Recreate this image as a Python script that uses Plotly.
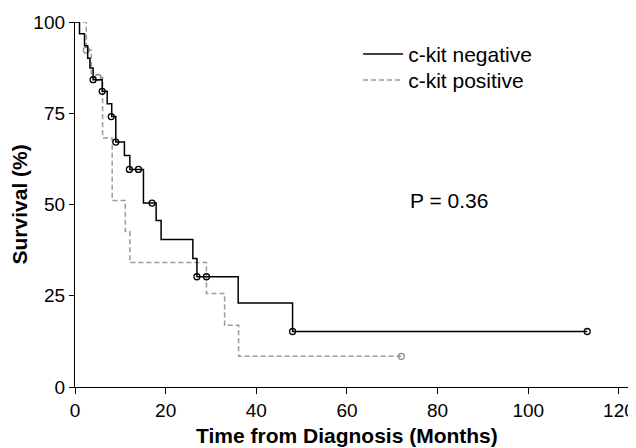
import plotly.graph_objects as go

# Kaplan-Meier step data
neg_time = [0, 1.0, 2.1, 2.8, 3.3, 4.0, 6.0, 7.1, 8.1, 9.0, 10.9, 12.1, 15.1, 17.9, 19.0, 26.0, 26.9, 36.0, 48.0, 113.0]
neg_surv = [100, 96.8, 93.5, 90.1, 87.4, 84.2, 81.0, 77.6, 74.1, 67.1, 63.4, 59.6, 50.4, 45.6, 40.4, 35.2, 30.2, 23.0, 15.2, 15.2]
neg_cens_time = [4.0, 6.0, 8.0, 9.0, 12.0, 14.0, 17.0, 26.9, 29.0, 48.0, 113.0]
neg_cens_surv = [84.2, 81.0, 74.1, 67.1, 59.6, 59.6, 50.4, 30.2, 30.2, 15.2, 15.2]

pos_time = [0, 2.5, 3.6, 6.1, 8.2, 11.1, 12.1, 29.0, 33.0, 36.1, 72.0]
pos_surv = [100, 92.3, 84.8, 68.2, 51.1, 42.6, 34.1, 25.6, 16.9, 8.4, 8.4]
pos_cens_time = [2.5, 5.1, 72.0]
pos_cens_surv = [92.3, 84.8, 8.4]

x_ticks = [0, 20, 40, 60, 80, 100, 120]
y_ticks = [0, 25, 50, 75, 100]
labels = ["c-kit negative", "c-kit positive"]
p_text = "P = 0.36"
x_title = "Time from Diagnosis (Months)"
y_title = "Survival (%)"

BLACK = "#000000"
GREY = "#999999"
GREY_MK = "#8a8a8a"
FONT = "Liberation Sans, Arial, sans-serif"

fig = go.Figure()

# c-kit positive (grey dashed)
fig.add_trace(go.Scatter(x=pos_time, y=pos_surv, mode="lines", line_shape="hv",
                         line=dict(color=GREY, width=1.5, dash="5px,3px"),
                         showlegend=False, cliponaxis=False, hoverinfo="skip"))
fig.add_trace(go.Scatter(x=pos_cens_time, y=pos_cens_surv, mode="markers",
                         marker=dict(symbol="circle-open", size=6, color=GREY_MK, line=dict(width=1.3)),
                         showlegend=False, cliponaxis=False))
# c-kit negative (black solid)
fig.add_trace(go.Scatter(x=neg_time, y=neg_surv, mode="lines", line_shape="hv",
                         line=dict(color=BLACK, width=1.5),
                         showlegend=False, cliponaxis=False, hoverinfo="skip"))
fig.add_trace(go.Scatter(x=neg_cens_time, y=neg_cens_surv, mode="markers",
                         marker=dict(symbol="circle-open", size=6, color=BLACK, line=dict(width=1.3)),
                         showlegend=False, cliponaxis=False))

# legend entries (two legends so row spacing can match)
fig.add_trace(go.Scatter(x=[None], y=[None], mode="lines", name=labels[0],
                         line=dict(color=BLACK, width=1.5), legend="legend"))
fig.add_trace(go.Scatter(x=[None], y=[None], mode="lines", name=labels[1],
                         line=dict(color=GREY, width=1.5, dash="5px,3px"), legend="legend2"))

fig.add_annotation(x=73.5, y=51.1, xref="x", yref="y", text=p_text, showarrow=False,
                   xanchor="left", yanchor="middle", font=dict(size=21, color=BLACK, family=FONT))
# axis titles
fig.add_annotation(x=60, y=-0.134, xref="x", yref="paper", text="<b>" + x_title + "</b>",
                   showarrow=False, xanchor="center", yanchor="middle",
                   font=dict(size=21, color=BLACK, family=FONT))
fig.add_annotation(x=-0.0995, y=0.5, xref="paper", yref="paper", text="<b>" + y_title + "</b>",
                   textangle=-90, showarrow=False, xanchor="center", yanchor="middle",
                   font=dict(size=21, color=BLACK, family=FONT))

leg_common = dict(x=0.512, xanchor="left", yanchor="middle",
                  font=dict(size=21, family=FONT, color=BLACK), itemwidth=40,
                  bgcolor="rgba(0,0,0,0)")
# the page body has an 8px margin, so the figure is 8px smaller and its margins 8px less
fig.update_layout(
    width=628, height=440,
    margin=dict(l=67, r=8, t=14, b=61),
    paper_bgcolor="white", plot_bgcolor="white",
    font=dict(family=FONT, color=BLACK),
    legend=dict(y=0.9115, **leg_common),
    legend2=dict(y=0.840, **leg_common),
    showlegend=True,
)
fig.update_xaxes(range=[0, 122], tickvals=x_ticks, ticktext=[str(v) for v in x_ticks],
                 showline=True, linecolor=BLACK, linewidth=1.3, ticks="outside", ticklen=6,
                 tickcolor=BLACK, tickwidth=1.3, showgrid=False, zeroline=False,
                 tickfont=dict(size=19, family=FONT), automargin=False)
fig.update_yaxes(range=[0, 100], tickvals=y_ticks, ticktext=[str(v) for v in y_ticks],
                 showline=True, linecolor=BLACK, linewidth=1.3, ticks="outside", ticklen=5,
                 tickcolor=BLACK, tickwidth=1.3, showgrid=False, zeroline=False,
                 tickfont=dict(size=19, family=FONT), automargin=False)

fig.write_html("out.html")
